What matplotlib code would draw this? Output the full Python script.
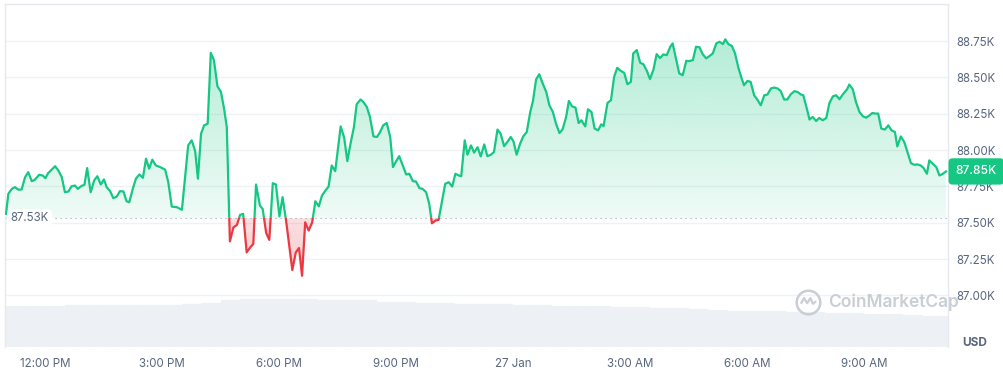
import numpy as np
import matplotlib.pyplot as plt
import matplotlib.colors as mcolors
from matplotlib.patches import Rectangle
from matplotlib.path import Path

plt.rcParams['font.family'] = ['Inter', 'DejaVu Sans']

# time in hours after 12:00 PM (26 Jan), price in USD
hours = [
    -1.00, -0.94, -0.85, -0.77, -0.68, -0.60, -0.51, -0.43, -0.34, -0.26, -0.15, -0.06,
    0.01, 0.08, 0.17, 0.26, 0.34, 0.43, 0.51, 0.60, 0.68, 0.77, 0.84, 0.94,
    1.01, 1.08, 1.17, 1.26, 1.34, 1.43, 1.51, 1.58, 1.67, 1.75, 1.84, 1.92,
    2.01, 2.09, 2.16, 2.25, 2.33, 2.42, 2.51, 2.59, 2.67, 2.75, 2.84, 2.95,
    3.08, 3.16, 3.25, 3.38, 3.51, 3.59, 3.67, 3.76, 3.85, 3.92,
    4.00, 4.08, 4.17, 4.25, 4.33, 4.42, 4.51, 4.59, 4.66, 4.74, 4.83, 4.92,
    5.00, 5.08, 5.17, 5.26, 5.34, 5.41, 5.51, 5.58, 5.67, 5.75, 5.84, 5.92,
    6.01, 6.09, 6.18, 6.26, 6.34, 6.43, 6.51, 6.59, 6.67, 6.76, 6.85, 6.93,
    7.02, 7.10, 7.19, 7.27, 7.35, 7.44, 7.58, 7.67, 7.75, 7.84, 7.92, 7.99,
    8.09, 8.16, 8.25, 8.33, 8.42, 8.51, 8.59, 8.67, 8.76, 8.85, 8.92,
    9.00, 9.08, 9.17, 9.26, 9.34, 9.43, 9.51, 9.60, 9.68, 9.77, 9.85, 9.92,
    10.01, 10.09, 10.18, 10.26, 10.35, 10.44, 10.52, 10.61, 10.67, 10.76, 10.83, 10.92,
    11.00, 11.09, 11.17, 11.26, 11.34, 11.43, 11.51, 11.60, 11.68, 11.77, 11.85, 11.94,
    12.01, 12.09, 12.18, 12.26, 12.35, 12.44, 12.51, 12.59, 12.67, 12.76, 12.85, 12.93,
    13.02, 13.10, 13.19, 13.27, 13.36, 13.43, 13.51, 13.60, 13.68, 13.75, 13.85, 13.92,
    14.01, 14.09, 14.18, 14.26, 14.32, 14.42, 14.51, 14.59, 14.67, 14.76, 14.85, 14.93,
    15.02, 15.08, 15.17, 15.26, 15.34, 15.43, 15.51, 15.60, 15.68, 15.77, 15.85, 15.94,
    16.03, 16.09, 16.18, 16.26, 16.35, 16.44, 16.52, 16.61, 16.69, 16.78, 16.86, 16.95,
    17.03, 17.12, 17.21, 17.29, 17.38, 17.44, 17.52, 17.61, 17.69, 17.78, 17.86, 17.92,
    18.01, 18.09, 18.18, 18.26, 18.35, 18.44, 18.52, 18.61, 18.69, 18.78, 18.86, 18.95,
    19.03, 19.12, 19.21, 19.29, 19.38, 19.44, 19.53, 19.60, 19.68, 19.77, 19.85, 19.94,
    20.03, 20.11, 20.20, 20.28, 20.37, 20.45, 20.56, 20.62, 20.71, 20.79, 20.88, 20.97,
    21.05, 21.14, 21.21, 21.29, 21.36, 21.44, 21.53, 21.62, 21.70, 21.79, 21.85, 21.94,
    22.03, 22.11, 22.20, 22.28, 22.37, 22.45, 22.52, 22.61, 22.67, 22.76, 22.85, 22.93,
    23.02, 23.10,
]
price = [
    87561, 87699, 87733, 87745, 87727, 87729, 87814, 87848, 87786, 87796, 87830, 87825,
    87807, 87841, 87865, 87889, 87860, 87814, 87710, 87715, 87751, 87756, 87733, 87754,
    87761, 87876, 87710, 87791, 87820, 87763, 87798, 87745, 87717, 87669, 87680, 87717,
    87715, 87648, 87641, 87733, 87803, 87832, 87809, 87941, 87872, 87934, 87894, 87883,
    87865, 87779, 87611, 87607, 87589, 87814, 88032, 88067, 87993, 87803,
    88113, 88170, 88182, 88669, 88619, 88439, 88400, 88286, 88159, 87372, 87468, 87485,
    87554, 87561, 87296, 87330, 87354, 87763, 87618, 87595, 87430, 87382, 87772, 87763,
    87544, 87676, 87515, 87342, 87175, 87296, 87326, 87135, 87503, 87446, 87503, 87648,
    87613, 87687, 87722, 87749, 87894, 87855, 88163, 88085, 87924, 88055, 88159, 88315,
    88348, 88331, 88297, 88228, 88094, 88090, 88124, 88170, 88186, 88090, 87883,
    87922, 87958, 87894, 87832, 87837, 87786, 87784, 87738, 87733, 87710, 87630, 87496,
    87515, 87520, 87653, 87768, 87779, 87749, 87837, 87825, 87820, 88067, 87968, 88032,
    87982, 88020, 87956, 88039, 87958, 87968, 87986, 88141, 88113, 88027, 88055, 88090,
    88060, 87968, 88044, 88094, 88124, 88262, 88338, 88486, 88522, 88458, 88400, 88308,
    88262, 88182, 88117, 88143, 88228, 88338, 88301, 88292, 88186, 88205, 88163, 88281,
    88262, 88148, 88136, 88177, 88165, 88324, 88343, 88504, 88566, 88545, 88531, 88453,
    88469, 88665, 88688, 88600, 88591, 88545, 88488, 88555, 88660, 88633, 88658, 88653,
    88711, 88734, 88624, 88527, 88515, 88614, 88612, 88619, 88711, 88707, 88660, 88631,
    88646, 88665, 88734, 88745, 88729, 88762, 88729, 88716, 88665, 88562, 88493, 88446,
    88476, 88469, 88377, 88348, 88308, 88377, 88382, 88424, 88430, 88424, 88407, 88348,
    88348, 88384, 88405, 88400, 88382, 88377, 88286, 88210, 88228, 88200, 88221, 88205,
    88221, 88324, 88370, 88377, 88350, 88382, 88417, 88451, 88417, 88331, 88262, 88232,
    88223, 88239, 88255, 88251, 88251, 88148, 88141, 88170, 88136, 88124, 88025, 88094,
    88055, 87986, 87910, 87899, 87901, 87894, 87878, 87837, 87929, 87906, 87883, 87825,
    87837, 87853,
]
base_price = 87530
last_label = '87.85K'

# 24h volume (relative), one bar per half hour
vol_hours = np.arange(-1, 23.01, 0.5)
volume = [
    41.0, 41.0, 41.0, 41.5, 41.5, 41.5, 41.5, 42.0, 42.0, 43.0, 44.0, 46.0,
    47.5, 47.5, 47.0, 47.0, 46.5, 46.5, 46.0, 45.0, 44.5, 44.0, 43.5, 43.0,
    43.0, 42.5, 42.0, 41.5, 41.0, 41.0, 40.5, 40.0, 39.5, 39.0, 38.5, 38.0,
    37.0, 36.0, 35.5, 35.5, 35.0, 34.5, 34.0, 33.5, 33.0, 32.5, 31.5, 31.0, 31.0,
]

xtick_pos = [0, 3, 6, 9, 12, 15, 18, 21]
xtick_lab = ['12:00 PM', '3:00 PM', '6:00 PM', '9:00 PM', '27 Jan', '3:00 AM', '6:00 AM', '9:00 AM']
ytick_vals = [87000, 87250, 87500, 87750, 88000, 88250, 88500, 88750]

green = '#16c784'
red = '#ea3943'
grey_txt = '#58667e'
grid_c = '#eff2f5'

t = np.array(hours)
p = np.array(price, dtype=float)
xlim = (-1.026, 23.15)
ylim = (86645, 89005)

fig = plt.figure(figsize=(10.04, 3.70), dpi=100)
rect = [5 / 1004, 23 / 370, 943 / 1004, 343 / 370]

# volume in the background
axv = fig.add_axes(rect, zorder=0)
axv.bar(vol_hours, volume, width=0.5, align='edge', color='#edf0f4', edgecolor='#f4f6f8', linewidth=0.3)
axv.set_xlim(xlim)
axv.set_ylim(0, max(volume) / 0.14)
axv.axis('off')

ax = fig.add_axes(rect, zorder=1)
ax.patch.set_alpha(0)


def gradient_fill(mask, color, y0, y1, a0, a1):
    coll = ax.fill_between(t, p, base_price, where=mask, interpolate=True,
                           facecolor='none', edgecolor='none')
    path = Path.make_compound_path(*coll.get_paths())
    img = np.zeros((256, 1, 4))
    img[:, :, :3] = mcolors.to_rgb(color)
    img[:, 0, 3] = np.linspace(a0, a1, 256)
    im = ax.imshow(img, extent=[t[0], t[-1], y0, y1], origin='lower', aspect='auto', zorder=1)
    im.set_clip_path(path, transform=ax.transData)


gradient_fill(p >= base_price, green, base_price, 88780, 0.07, 0.33)
gradient_fill(p <= base_price, red, 87100, base_price, 0.28, 0.16)

# price line, green above the open, red below
for c, lo, hi in [(green, base_price, ylim[1]), (red, ylim[0], base_price)]:
    ln, = ax.plot(t, p, color=c, lw=1.6, zorder=3, solid_joinstyle='round')
    clip = Rectangle((xlim[0], lo), xlim[1] - xlim[0], hi - lo, transform=ax.transData)
    ln.set_clip_path(clip)

ax.axhline(base_price, color='#9aa3b2', lw=0.8, ls=(0, (1, 3.5)), zorder=2)

ax.set_xlim(xlim)
ax.set_ylim(ylim)

ax.yaxis.tick_right()
ax.set_yticks(ytick_vals)
ax.set_yticklabels(['%.2fK' % (v / 1000) for v in ytick_vals])
ax.set_xticks(xtick_pos)
ax.set_xticklabels(xtick_lab)
ax.tick_params(axis='both', length=0, labelsize=8.3, labelcolor=grey_txt)
ax.tick_params(axis='y', pad=6)
ax.tick_params(axis='x', pad=8)
ax.grid(axis='y', color=grid_c, lw=1)
ax.set_axisbelow(True)
for s in ['top', 'left', 'right']:
    ax.spines[s].set_color('#e6e9ee')
    ax.spines[s].set_linewidth(1)
ax.spines['bottom'].set_visible(False)

# open price label on the left
ax.text(0.006, base_price, '87.53K', transform=ax.get_yaxis_transform(), ha='left', va='center',
        fontsize=8.3, color=grey_txt, zorder=5,
        bbox=dict(boxstyle='round,pad=0.3,rounding_size=0.5', fc='white', ec='none'))

# last price tag on the right
ax.annotate(last_label, xy=(1, p[-1]), xycoords=('axes fraction', 'data'),
            xytext=(5.5, 0), textcoords='offset points', ha='left', va='center',
            fontsize=8.6, color='white', fontweight='medium', zorder=6, annotation_clip=False,
            bbox=dict(boxstyle='round,pad=0.6,rounding_size=0.35', fc=green, ec='none'))

fig.text(0.971, 0.073, 'USD', ha='center', va='center', fontsize=8.5, fontweight='bold', color=grey_txt)

# watermark
wm = '#c9ced6'
ax.plot([0.852], [0.13], marker='o', ms=17, mfc='none', mec=wm, mew=1.8,
        transform=ax.transAxes, zorder=4, clip_on=False)
wave = Path([(-0.6, -0.1), (-0.35, 0.35), (-0.1, -0.05), (0.15, 0.35), (0.35, -0.1), (0.6, 0.1)])
ax.plot([0.852], [0.13], marker=wave, ms=11, mfc='none', mec=wm, mew=1.6,
        transform=ax.transAxes, zorder=4, clip_on=False)
ax.text(0.873, 0.13, 'CoinMarketCap', transform=ax.transAxes, ha='left', va='center',
        fontsize=12.5, color=wm, fontweight='semibold', zorder=4)

fig.savefig('out.png', dpi=100)
